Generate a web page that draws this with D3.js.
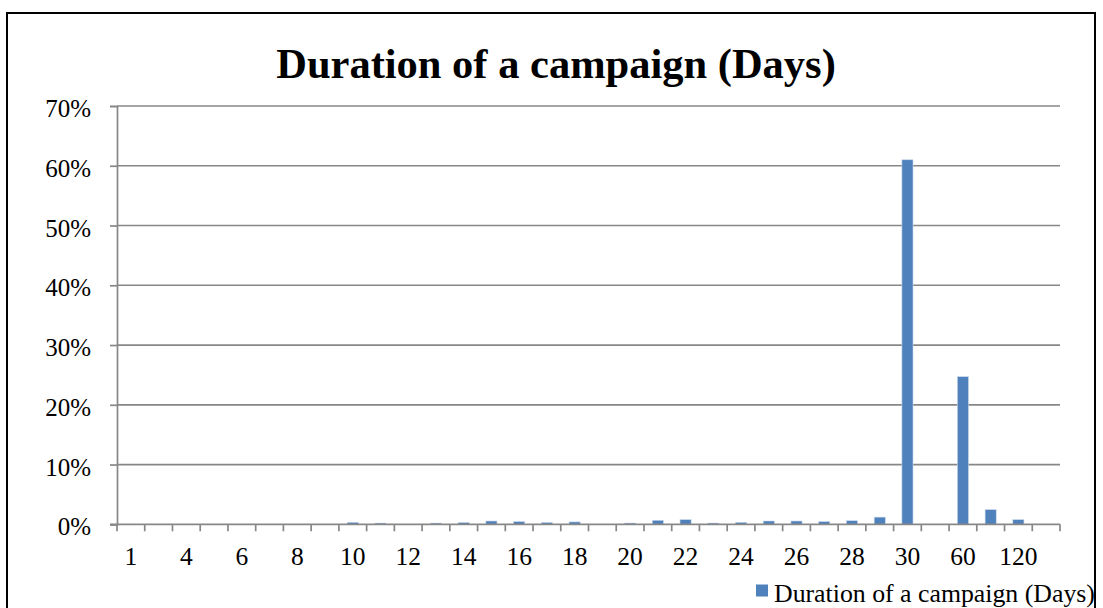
<!DOCTYPE html>
<html>
<head>
<meta charset="utf-8">
<script src="https://cdn.jsdelivr.net/npm/d3@7"></script>
<style>
  html, body { margin: 0; padding: 0; background: #fff; }
  svg { display: block; }
  text { font-family: "Liberation Serif", "Times New Roman", serif; fill: #000; }
</style>
</head>
<body>
<svg id="chart" width="1103" height="608"></svg>
<script>
// Campaign length (days) and share of campaigns
const categories = ["1","3","4","5","6","7","8","9","10","11","12","13","14","15","16","17","18","19","20",
                    "21","22","23","24","25","26","27","28","29","30","45","60","90","120","180"];
const shares = [0, 0, 0, 0, 0, 0, 0, 0, 0.33, 0.2, 0, 0.2, 0.3, 0.55, 0.45, 0.3, 0.4, 0, 0.2,
                0.67, 0.78, 0.2, 0.33, 0.55, 0.55, 0.45, 0.6, 1.2, 61.0, 0, 24.7, 2.45, 0.78, 0];
const yTicks = [0, 10, 20, 30, 40, 50, 60, 70];
const seriesName = "Duration of a campaign (Days)";

const svg = d3.select("#chart");
const plot = { left: 117, right: 1060, top: 106, bottom: 524.3 };
const gridColor = "#878787";
const barColor = "#4F81BD";

// outer frame
svg.append("rect")
  .attr("x", 7).attr("y", 13)
  .attr("width", 1088).attr("height", 620)
  .attr("fill", "none").attr("stroke", "#000").attr("stroke-width", 2);

// title
svg.append("text")
  .attr("x", 556).attr("y", 78)
  .attr("text-anchor", "middle")
  .attr("font-size", 42.5).attr("font-weight", "bold")
  .text(seriesName);

const x = d3.scaleBand()
  .domain(categories)
  .range([plot.left, plot.right])
  .paddingInner(0).paddingOuter(0);

const y = d3.scaleLinear()
  .domain([0, 70])
  .range([plot.bottom, plot.top]);

// horizontal gridlines
svg.append("g")
  .selectAll("line")
  .data(yTicks.filter(t => t > 0))
  .join("line")
  .attr("x1", plot.left).attr("x2", plot.right)
  .attr("y1", d => y(d)).attr("y2", d => y(d))
  .attr("stroke", gridColor).attr("stroke-width", 1.7);

// y axis
const yAxis = d3.axisLeft(y)
  .tickValues(yTicks)
  .tickFormat(d => d + "%")
  .tickSize(7)
  .tickPadding(19);
const gy = svg.append("g")
  .attr("transform", `translate(${plot.left},0)`)
  .call(yAxis);
gy.select(".domain").attr("stroke", gridColor).attr("stroke-width", 1.7);
gy.selectAll(".tick line").attr("stroke", gridColor).attr("stroke-width", 1.7);
gy.selectAll(".tick text")
  .attr("font-family", "Liberation Serif, Times New Roman, serif")
  .attr("font-size", 25).attr("fill", "#000")
  .attr("dy", "0.42em");

// bars
const barW = x.bandwidth() / 2.5;
svg.append("g")
  .selectAll("rect")
  .data(categories.map((c, i) => ({ c, v: shares[i] })).filter(d => d.v > 0))
  .join("rect")
  .attr("x", d => x(d.c) + (x.bandwidth() - barW) / 2)
  .attr("width", barW)
  .attr("y", d => y(d.v))
  .attr("height", d => y(0) - y(d.v))
  .attr("fill", barColor)
  .attr("stroke", "#c9d7ea").attr("stroke-width", 0.6);

// x axis: baseline, boundary ticks, labels on alternate categories
svg.append("line")
  .attr("x1", plot.left - 7).attr("x2", plot.right)
  .attr("y1", y(0)).attr("y2", y(0))
  .attr("stroke", gridColor).attr("stroke-width", 1.7);

const boundaries = categories.map(c => x(c)).concat([plot.right]);
svg.append("g")
  .selectAll("line")
  .data(boundaries)
  .join("line")
  .attr("x1", d => d).attr("x2", d => d)
  .attr("y1", y(0)).attr("y2", y(0) + 7)
  .attr("stroke", gridColor).attr("stroke-width", 1.7);

svg.append("g")
  .selectAll("text")
  .data(categories.filter((c, i) => i % 2 === 0))
  .join("text")
  .attr("x", d => x(d) + x.bandwidth() / 2)
  .attr("y", 565)
  .attr("text-anchor", "middle")
  .attr("font-size", 25.5)
  .text(d => d);

// legend
svg.append("rect")
  .attr("x", 756).attr("y", 584.5)
  .attr("width", 12).attr("height", 12)
  .attr("fill", barColor);
svg.append("text")
  .attr("x", 774).attr("y", 601.5)
  .attr("font-size", 25.8)
  .text(seriesName);
</script>
</body>
</html>
